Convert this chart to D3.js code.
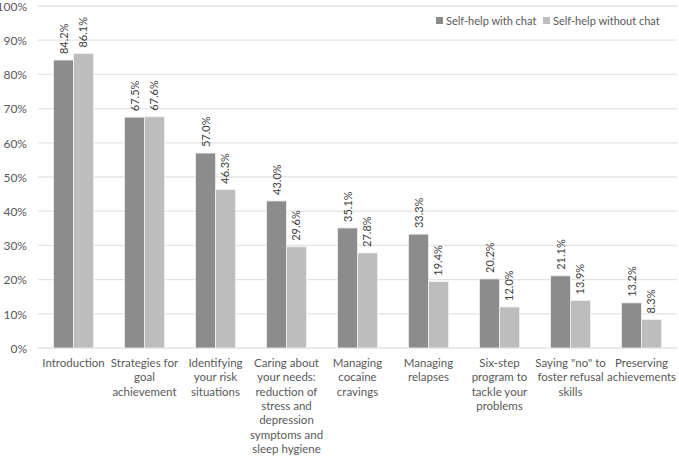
<!DOCTYPE html>
<html><head><meta charset="utf-8">
<script src="https://cdn.jsdelivr.net/npm/d3@7"></script>
<style>body{margin:0;background:#fff;} text{font-family:Lato,"Open Sans",sans-serif;}</style>
</head><body><svg id="c" width="679" height="457"></svg>
<script>
const categories = [
  ["Introduction"],
  ["Strategies for","goal","achievement"],
  ["Identifying","your risk","situations"],
  ["Caring about","your needs:","reduction of","stress and","depression","symptoms and","sleep hygiene"],
  ["Managing","cocaine","cravings"],
  ["Managing","relapses"],
  ["Six-step","program to","tackle your","problems"],
  ["Saying \"no\" to","foster refusal","skills"],
  ["Preserving","achievements"]
];
const seriesNames = ["Self-help with chat","Self-help without chat"];
const withChat = [84.2,67.5,57.0,43.0,35.1,33.3,20.2,21.1,13.2];
const withoutChat = [86.1,67.6,46.3,29.6,27.8,19.4,12.0,13.9,8.3];
const yTicks = [0,10,20,30,40,50,60,70,80,90,100];
const colors = ["#8c8c8c","#bdbdbd"];

(function(){
const svg = d3.select("#c");
const pL = 38, pR = 677, pT = 6, pB = 348;
const x0 = d3.scaleBand().domain(d3.range(categories.length)).range([pL,pR]).paddingInner(0.437).paddingOuter(0.2185);
const x1 = d3.scaleBand().domain([0,1]).range([0,x0.bandwidth()]);
const y = d3.scaleLinear().domain([0,100]).range([pB,pT]);

svg.append("g").selectAll("line").data(yTicks).join("line")
  .attr("x1",pL).attr("x2",pR).attr("y1",d=>y(d)).attr("y2",d=>y(d))
  .attr("stroke","#e3e3e3").attr("stroke-width",1.3);

const yAxis = d3.axisLeft(y).tickValues(yTicks).tickFormat(d=>d+"%").tickSize(0).tickPadding(11);
const ya = svg.append("g").attr("transform",`translate(${pL},0)`).call(yAxis);
ya.select(".domain").remove();
ya.selectAll("text").attr("font-size",12).attr("fill","#595959").attr("font-family","Lato,sans-serif").attr("dy","0.36em");

const series = [withChat, withoutChat];
series.forEach((vals,si)=>{
  const g = svg.append("g");
  g.selectAll("rect").data(vals).join("rect")
    .attr("x",(d,i)=>x0(i)+x1(si)).attr("width",x1.bandwidth())
    .attr("y",d=>y(d)).attr("height",d=>y(0)-y(d))
    .attr("fill",colors[si]).attr("stroke","#f0f0f0").attr("stroke-width",0.8);
  g.selectAll("text").data(vals).join("text")
    .attr("transform",(d,i)=>`translate(${x0(i)+x1(si)+x1.bandwidth()/2+4},${y(d)-6}) rotate(-90)`)
    .attr("font-size",11).attr("fill","#404040")
    .text(d=>d.toFixed(1)+"%");
});

const xl = svg.append("g");
categories.forEach((lines,i)=>{
  const cx = x0(i)+x0.bandwidth()/2;
  const t = xl.append("text").attr("text-anchor","middle").attr("font-size",11.5).attr("fill","#595959");
  lines.forEach((l,j)=>t.append("tspan").attr("x",cx).attr("y",367+j*14.3).text(l));
});

const leg = svg.append("g");
const legX = [436,543];
seriesNames.forEach((n,i)=>{
  leg.append("rect").attr("x",legX[i]).attr("y",17).attr("width",7).attr("height",7).attr("fill",colors[i]);
  leg.append("text").attr("x",legX[i]+10).attr("y",25).attr("font-size",11).attr("fill","#595959").text(n);
});
})();
</script></body></html>
